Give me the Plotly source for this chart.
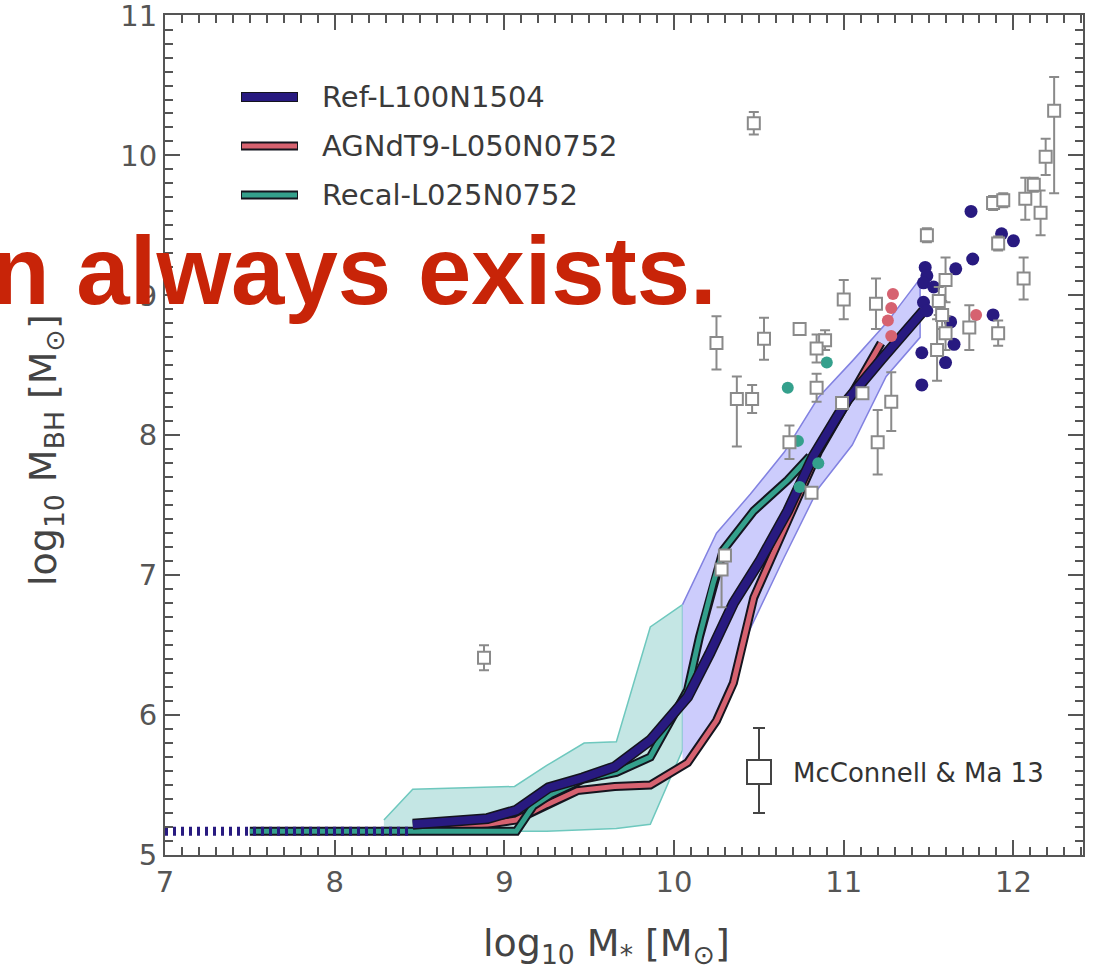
import plotly.graph_objects as go

# ---------------- data ----------------
# Ref-L100N1504 median: dotted part below resolution limit, then solid
ref_seed_x = [7.0, 8.46]
ref_seed_y = [5.17, 5.17]
ref_x = [8.46, 8.7, 8.9, 9.07, 9.26, 9.46, 9.65, 9.86, 10.08, 10.21, 10.35, 10.51, 10.67, 10.82, 11.02, 11.22, 11.47]
ref_y = [5.22, 5.24, 5.26, 5.32, 5.48, 5.55, 5.63, 5.82, 6.13, 6.44, 6.80, 7.11, 7.46, 7.85, 8.25, 8.54, 8.89]

# Ref 10-90 percentile band
ref_band_x = [10.05, 10.25, 10.45, 10.65, 10.85, 11.05, 11.25, 11.45]
ref_band_hi = [6.79, 7.30, 7.58, 7.88, 8.27, 8.53, 8.80, 9.12]
ref_band_lo = [5.63, 5.98, 6.62, 7.13, 7.62, 7.93, 8.42, 8.70]

# AGNdT9-L050N0752 median
agn_x = [8.5, 8.9, 9.07, 9.25, 9.43, 9.65, 9.86, 10.08, 10.25, 10.35, 10.47, 10.67, 10.85, 11.05, 11.22]
agn_y = [5.20, 5.22, 5.25, 5.36, 5.46, 5.49, 5.50, 5.66, 5.96, 6.23, 6.84, 7.39, 7.88, 8.30, 8.66]

# Recal-L025N0752 median
rec_x = [7.5, 9.07, 9.17, 9.27, 9.46, 9.66, 9.86, 10.08, 10.15, 10.23, 10.29, 10.47, 10.67, 10.80]
rec_y = [5.17, 5.17, 5.35, 5.43, 5.54, 5.59, 5.70, 6.18, 6.56, 6.94, 7.18, 7.46, 7.68, 7.85]

# Recal band
rec_band_x = [8.29, 8.46, 9.06, 9.25, 9.47, 9.66, 9.86, 10.05]
rec_band_hi = [5.25, 5.47, 5.49, 5.64, 5.80, 5.81, 6.63, 6.79]
rec_band_lo = [5.17, 5.17, 5.17, 5.17, 5.18, 5.19, 5.22, 5.75]

# individual galaxies
ref_pts_x = [11.75, 11.76, 11.93, 12.00, 11.48, 11.49, 11.47, 11.53, 11.66, 11.47, 11.49, 11.63, 11.88, 11.65, 11.46, 11.60, 11.46]
ref_pts_y = [9.60, 9.26, 9.44, 9.39, 9.20, 9.14, 9.09, 9.06, 9.19, 8.95, 8.89, 8.81, 8.86, 8.65, 8.59, 8.52, 8.36]
agn_pts_x = [11.78, 11.29, 11.28, 11.26, 11.28]
agn_pts_y = [8.86, 9.01, 8.91, 8.82, 8.71]
rec_pts_x = [10.67, 10.90, 10.73, 10.74, 10.85]
rec_pts_y = [8.34, 8.52, 7.96, 7.63, 7.80]

# McConnell & Ma 2013 observations
mm_x = [10.47, 8.88, 10.25, 10.53, 10.74, 10.89, 10.84, 11.00, 11.19, 10.37, 10.46, 10.84, 10.99,
        11.11, 11.28, 11.20, 10.68, 10.81, 10.30, 10.28, 11.49, 11.60, 11.56, 11.58, 11.60, 11.55,
        11.74, 11.91, 12.06, 11.88, 11.94, 11.91, 12.07, 12.12, 12.16, 12.19, 12.24]
mm_y = [10.23, 6.41, 8.66, 8.69, 8.76, 8.68, 8.62, 8.97, 8.94, 8.26, 8.26, 8.34, 8.23,
        8.30, 8.24, 7.95, 7.95, 7.59, 7.14, 7.04, 9.43, 9.11, 8.96, 8.86, 8.73, 8.61,
        8.77, 8.73, 9.12, 9.66, 9.68, 9.37, 9.69, 9.79, 9.59, 9.99, 10.32]
mm_err_up = [0.08, 0.09, 0.19, 0.15, 0.0, 0.07, 0.10, 0.14, 0.18, 0.16, 0.10, 0.10, 0.0,
             0.0, 0.21, 0.23, 0.12, 0.0, 0.03, 0.03, 0.05, 0.16, 0.10, 0.10, 0.12, 0.22,
             0.16, 0.09, 0.15, 0.05, 0.05, 0.05, 0.15, 0.05, 0.16, 0.13, 0.24]
mm_err_dn = [0.08, 0.09, 0.19, 0.15, 0.0, 0.07, 0.10, 0.14, 0.18, 0.34, 0.10, 0.10, 0.0,
             0.0, 0.21, 0.23, 0.12, 0.0, 0.03, 0.27, 0.05, 0.16, 0.10, 0.10, 0.12, 0.22,
             0.16, 0.09, 0.15, 0.05, 0.05, 0.05, 0.15, 0.05, 0.16, 0.13, 0.59]

legend_names = ["Ref-L100N1504", "AGNdT9-L050N0752", "Recal-L025N0752"]
x_ticks = [7, 8, 9, 10, 11, 12]
y_ticks = [5, 6, 7, 8, 9, 10, 11]

# ---------------- styles ----------------
NAVY = "rgb(40,26,128)"
RED = "rgb(214,98,112)"
TEAL = "rgb(52,160,140)"
GREY = "rgb(138,138,138)"
AXC = "#555555"
FONT = "DejaVu Sans"

fig = go.Figure()

# bands
fig.add_trace(go.Scatter(x=rec_band_x + rec_band_x[::-1], y=rec_band_hi + rec_band_lo[::-1],
                         fill="toself", fillcolor="rgb(196,230,228)", mode="lines",
                         line=dict(color="rgb(110,200,190)", width=1.5), hoverinfo="skip"))
fig.add_trace(go.Scatter(x=ref_band_x + ref_band_x[::-1], y=ref_band_hi + ref_band_lo[::-1],
                         fill="toself", fillcolor="rgb(204,204,252)", mode="lines",
                         line=dict(color="rgb(130,130,225)", width=1.5), hoverinfo="skip"))

# outlined lines
def outlined(x, y, color, w_out, w_in):
    fig.add_trace(go.Scatter(x=x, y=y, mode="lines", line=dict(color="rgb(20,20,30)", width=w_out)))
    fig.add_trace(go.Scatter(x=x, y=y, mode="lines", line=dict(color=color, width=w_in)))

outlined(agn_x, agn_y, RED, 9, 5)
outlined(rec_x, rec_y, TEAL, 9, 5)
fig.add_trace(go.Scatter(x=ref_seed_x, y=ref_seed_y, mode="lines",
                         line=dict(color=NAVY, width=9, dash="3px,5px")))
outlined(ref_x, ref_y, NAVY, 11, 8)

# individual galaxies
fig.add_trace(go.Scatter(x=rec_pts_x, y=rec_pts_y, mode="markers",
                         marker=dict(color=TEAL, size=12, line=dict(width=0))))
fig.add_trace(go.Scatter(x=agn_pts_x, y=agn_pts_y, mode="markers",
                         marker=dict(color=RED, size=12, line=dict(width=0))))
fig.add_trace(go.Scatter(x=ref_pts_x, y=ref_pts_y, mode="markers",
                         marker=dict(color=NAVY, size=13, line=dict(width=0))))

# observations
fig.add_trace(go.Scatter(x=mm_x, y=mm_y, mode="markers",
                         marker=dict(symbol="square", size=12, color="white",
                                     line=dict(color=GREY, width=2)),
                         error_y=dict(type="data", array=mm_err_up, arrayminus=mm_err_dn,
                                      color=GREY, thickness=2, width=5)))

axis_common = dict(showgrid=False, zeroline=False, showline=True, linecolor=AXC, linewidth=2,
                   mirror="allticks", ticks="inside", ticklen=15, tickwidth=2, tickcolor=AXC,
                   ticklabeloverflow="allow", automargin=False,
                   tickfont=dict(family=FONT, size=29, color="#555555"),
                   minor=dict(ticks="inside", ticklen=8, tickwidth=1.5, tickcolor=AXC, dtick=0.1,
                              showgrid=False))

fig.update_xaxes(range=[7, 12.41], tickvals=x_ticks, ticktext=[str(v) for v in x_ticks], **axis_common)
fig.update_yaxes(range=[5, 11.004], tickvals=y_ticks, ticktext=[str(v) for v in y_ticks], **axis_common)

W, H = 1093, 977
ML, MR, MT, MB = 165, 10, 15, 122
PW, PH = W - ML - MR, H - MT - MB

def px(xp):
    return (xp - ML) / PW

def py(yp):
    return (H - MB - yp) / PH

shapes = []
annotations = []

# manual top-left legend
leg_rows = [(97, NAVY, 10, 8), (146, RED, 9, 5), (195, TEAL, 9, 5)]
for (yy, col, wo, wi), name in zip(leg_rows, legend_names):
    shapes.append(dict(type="line", xref="paper", yref="paper", x0=px(241), x1=px(298),
                       y0=py(yy), y1=py(yy), line=dict(color="rgb(20,20,30)", width=wo)))
    shapes.append(dict(type="line", xref="paper", yref="paper", x0=px(242), x1=px(297),
                       y0=py(yy), y1=py(yy), line=dict(color=col, width=wi)))
    annotations.append(dict(text=name, xref="paper", yref="paper", x=px(320), y=py(yy),
                            xanchor="left", yanchor="middle", showarrow=False,
                            font=dict(family=FONT, size=29, color="#3a3a3a")))

# McConnell & Ma legend (bottom right)
shapes.append(dict(type="line", xref="paper", yref="paper", x0=px(759), x1=px(759),
                   y0=py(813), y1=py(728), line=dict(color="#444", width=2)))
for cy in (728, 813):
    shapes.append(dict(type="line", xref="paper", yref="paper", x0=px(753), x1=px(765),
                       y0=py(cy), y1=py(cy), line=dict(color="#444", width=2)))
shapes.append(dict(type="rect", xref="paper", yref="paper", x0=px(747), x1=px(771),
                   y0=py(784), y1=py(760), fillcolor="white", line=dict(color="#444", width=2)))
annotations.append(dict(text="McConnell & Ma 13", xref="paper", yref="paper", x=px(791), y=py(773),
                        xanchor="left", yanchor="middle", showarrow=False,
                        font=dict(family=FONT, size=26, color="#333333")))

# axis titles
annotations.append(dict(text="log<sub>10</sub> M<sub>*</sub> [M<sub>⊙</sub>]", xref="paper", yref="paper",
                        x=px(606), y=py(945), xanchor="center", yanchor="middle", showarrow=False,
                        font=dict(family=FONT, size=38, color="#444444")))
annotations.append(dict(text="log<sub>10</sub> M<sub>BH</sub> [M<sub>⊙</sub>]", xref="paper", yref="paper",
                        x=px(46), y=py(450), xanchor="center", yanchor="middle", showarrow=False,
                        textangle=-90, font=dict(family=FONT, size=38, color="#444444")))

# overlaid slide text
annotations.append(dict(text="<b>n always exists.</b>", xref="paper", yref="paper",
                        x=px(719), y=py(270), xanchor="right", yanchor="middle", showarrow=False,
                        font=dict(family="Liberation Sans", size=96, color="rgb(200,36,8)")))

fig.update_layout(width=W, height=H, margin=dict(l=ML, r=MR, t=MT, b=MB, autoexpand=False),
                  plot_bgcolor="white", paper_bgcolor="white", showlegend=False,
                  shapes=shapes, annotations=annotations)

fig.write_html("out.html")
